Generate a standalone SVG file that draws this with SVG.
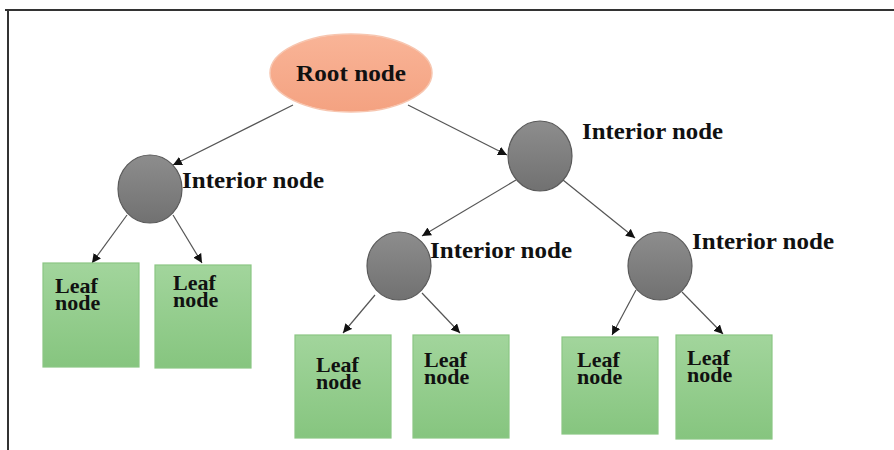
<svg xmlns="http://www.w3.org/2000/svg" width="894" height="450" viewBox="0 0 894 450">
  <defs>
    <linearGradient id="rootFill" x1="0" y1="0" x2="0" y2="1">
      <stop offset="0" stop-color="#f9b497"/>
      <stop offset="1" stop-color="#f4a281"/>
    </linearGradient>
    <linearGradient id="innerFill" x1="0" y1="0" x2="0" y2="1">
      <stop offset="0" stop-color="#8d8d8d"/>
      <stop offset="1" stop-color="#717171"/>
    </linearGradient>
    <linearGradient id="leafFill" x1="0" y1="0" x2="0" y2="1">
      <stop offset="0" stop-color="#a2d59c"/>
      <stop offset="1" stop-color="#86c57f"/>
    </linearGradient>
    <marker id="arrow" viewBox="0 0 10 10" refX="10" refY="5" markerWidth="9" markerHeight="9" markerUnits="userSpaceOnUse" orient="auto">
      <path d="M0,0 L10,5 L0,10 z" fill="#111"/>
    </marker>
  </defs>
  <style>
    .frame { stroke: #333; stroke-width: 2; fill: none; }
    .root { fill: url(#rootFill); stroke: #f7c6b0; stroke-width: 1.5; }
    .inner { fill: url(#innerFill); stroke: #5a5a5a; stroke-width: 1.2; }
    .leaf { fill: url(#leafFill); stroke: #8bc684; stroke-width: 1.2; }
    .edge { stroke: #555; stroke-width: 1.2; fill: none; marker-end: url(#arrow); }
    text { font-family: "Liberation Serif", "DejaVu Serif", serif; font-weight: bold; fill: #111; }
    .lbl { font-size: 23px; }
    .leafTxt { font-size: 22px; }
  </style>

  <rect width="894" height="450" fill="#fff"/>
  <path class="frame" d="M5,10 H894 M8,10 V450"/>

  <g id="connectors">
    <line class="edge" x1="293" y1="105" x2="173" y2="165"/>
    <line class="edge" x1="408" y1="105" x2="507" y2="155"/>
    <line class="edge" x1="127" y1="215" x2="92" y2="263"/>
    <line class="edge" x1="173" y1="215" x2="202" y2="263"/>
    <line class="edge" x1="516" y1="180" x2="422" y2="236"/>
    <line class="edge" x1="563" y1="180" x2="635" y2="238"/>
    <line class="edge" x1="375" y1="295" x2="343" y2="333"/>
    <line class="edge" x1="422" y1="293" x2="460" y2="333"/>
    <line class="edge" x1="636" y1="290" x2="612" y2="335"/>
    <line class="edge" x1="682" y1="292" x2="723" y2="334"/>
  </g>

  <g id="root">
    <ellipse class="root" cx="351" cy="73" rx="81" ry="39"/>
    <text class="lbl" x="296" y="81" textLength="110" lengthAdjust="spacingAndGlyphs">Root node</text>
  </g>

  <g id="interior-1">
    <ellipse class="inner" cx="150" cy="189" rx="32" ry="34"/>
    <text class="lbl" x="182" y="188" textLength="142" lengthAdjust="spacingAndGlyphs">Interior node</text>
  </g>
  <g id="interior-2">
    <ellipse class="inner" cx="540" cy="156" rx="32" ry="35"/>
    <text class="lbl" x="582" y="139" textLength="141" lengthAdjust="spacingAndGlyphs">Interior node</text>
  </g>
  <g id="interior-3">
    <ellipse class="inner" cx="399" cy="266" rx="32" ry="34"/>
    <text class="lbl" x="430" y="258" textLength="142" lengthAdjust="spacingAndGlyphs">Interior node</text>
  </g>
  <g id="interior-4">
    <ellipse class="inner" cx="660" cy="266" rx="32" ry="34"/>
    <text class="lbl" x="692" y="249" textLength="142" lengthAdjust="spacingAndGlyphs">Interior node</text>
  </g>

  <g id="leaf-1">
    <rect class="leaf" x="43" y="263" width="96" height="104"/>
    <text class="leafTxt" x="55" y="293">Leaf<tspan x="55" dy="17">node</tspan></text>
  </g>
  <g id="leaf-2">
    <rect class="leaf" x="155" y="265" width="96" height="103"/>
    <text class="leafTxt" x="173" y="290">Leaf<tspan x="173" dy="17">node</tspan></text>
  </g>
  <g id="leaf-3">
    <rect class="leaf" x="295" y="335" width="96" height="103"/>
    <text class="leafTxt" x="316" y="372">Leaf<tspan x="316" dy="17">node</tspan></text>
  </g>
  <g id="leaf-4">
    <rect class="leaf" x="413" y="335" width="96" height="103"/>
    <text class="leafTxt" x="424" y="367">Leaf<tspan x="424" dy="17">node</tspan></text>
  </g>
  <g id="leaf-5">
    <rect class="leaf" x="562" y="337" width="96" height="97"/>
    <text class="leafTxt" x="577" y="367">Leaf<tspan x="577" dy="17">node</tspan></text>
  </g>
  <g id="leaf-6">
    <rect class="leaf" x="676" y="335" width="96" height="104"/>
    <text class="leafTxt" x="687" y="365">Leaf<tspan x="687" dy="17">node</tspan></text>
  </g>
</svg>
